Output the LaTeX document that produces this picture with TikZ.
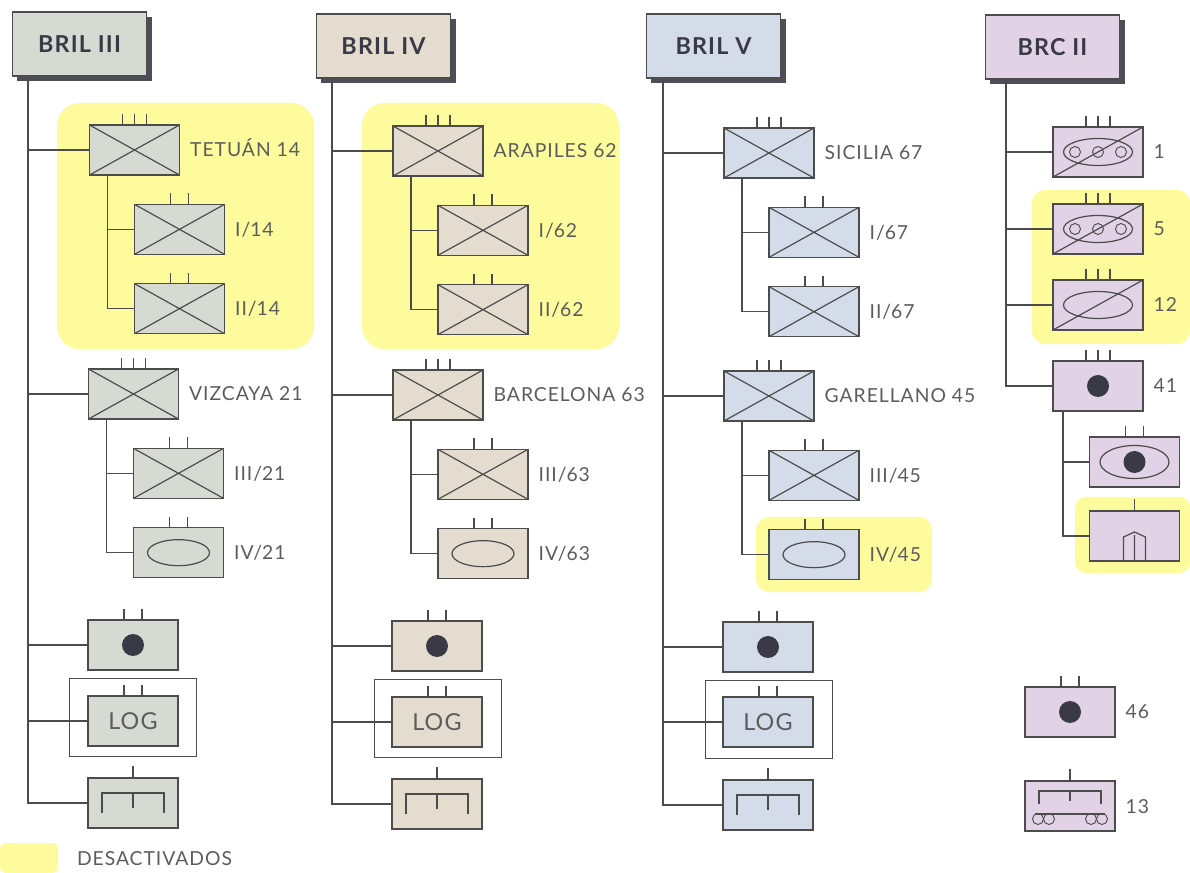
\documentclass[tikz,border=0pt]{standalone}
\usepackage{fontspec}
\setmainfont{Lato}[LetterSpace=5]
\usetikzlibrary{positioning,shadows}
\definecolor{gris}{HTML}{D6DAD2}
\definecolor{arena}{HTML}{E4DDCF}
\definecolor{azul}{HTML}{D4DCEA}
\definecolor{malva}{HTML}{E1D2E6}
\definecolor{amarillo}{HTML}{FDFB9C}
\definecolor{linea}{HTML}{4C4C4C}
\definecolor{texto}{HTML}{5C5C5C}
\definecolor{oscuro}{HTML}{3A3A46}
\tikzset{
  unitbox/.style={rectangle,draw=linea,line width=.9pt,colfill,minimum width=67.5pt,minimum height=37.5pt,inner sep=0pt,outer sep=0pt},
  inf/.style={unitbox,path picture={\draw[linea,line width=.9pt] (path picture bounding box.north west) -- (path picture bounding box.south east) (path picture bounding box.south west) -- (path picture bounding box.north east);}},
  cab/.style={unitbox,path picture={\draw[linea,line width=.9pt,shift={(path picture bounding box.center)}] (0,0) ellipse (31 and 13);}},
  art/.style={unitbox,path picture={\fill[oscuro] (path picture bounding box.center) circle (8.25pt);}},
  zap/.style={unitbox,path picture={\draw[linea,line width=.9pt,shift={(path picture bounding box.center)}] (-31,10) -- (-31,-10) -- (31,-10) -- (31,10) (0,-10) -- (0,5);}},
  logbox/.style={unitbox,font=\fontsize{17.5}{20}\selectfont,text=texto},
  tanks/.style={unitbox,path picture={\draw[linea,line width=.9pt,shift={(path picture bounding box.center)}] (0,0) ellipse (34.5 and 13.5) (-45,25) -- (45,-25);
    \foreach \d in {-23,0,23} \draw[linea,line width=.7pt,shift={(path picture bounding box.center)}] (\d,0) circle (5.5);}},
  mec/.style={unitbox,path picture={\draw[linea,line width=.9pt,shift={(path picture bounding box.center)}] (0,0) ellipse (34.5 and 13.5) (-45,25) -- (45,-25);}},
  arcab/.style={unitbox,path picture={\draw[linea,line width=.9pt,shift={(path picture bounding box.center)}] (0,0) ellipse (34.5 and 16.5); \fill[oscuro] (path picture bounding box.center) circle (8.25pt);}},
  ing/.style={unitbox,path picture={\draw[linea,line width=.9pt,shift={(path picture bounding box.center)}] (-11,25) -- (-11,1) -- (0,-4) -- (11,1) -- (11,25) (0,-1) -- (0,25);}},
  zaparc/.style={unitbox,path picture={\draw[linea,line width=.9pt,shift={(path picture bounding box.center)}] (-31,-2) -- (-31,-15) -- (31,-15) -- (31,-2) (0,-15) -- (0,-5) (-35,8) -- (35,8);
    \foreach \d in {-32,-21,21,32} \draw[linea,line width=.7pt,shift={(path picture bounding box.center)}] (\d,13) circle (5.5);}},
  brigada/.style={unitbox,drop shadow={shadow xshift=3.75pt,shadow yshift=-3.75pt,fill=oscuro!90,opacity=1},minimum width=101pt,minimum height=48pt,font=\fontsize{17.5}{20}\selectfont\bfseries,text=oscuro},
  lab/.style={font=\fontsize{14.5}{17}\selectfont,text=texto,inner sep=0pt,outer sep=0pt,text height=10.5pt,text depth=0pt},
  zona/.style={fill=amarillo,rounded corners=17pt,inner sep=0pt,outer sep=0pt},
  marco/.style={draw=linea,line width=.7pt,inner sep=0pt,outer sep=0pt},
  rama/.style={draw=linea,line width=.9pt},
  tick/.style={draw=linea,line width=.8pt},
  sub/.style={xshift=33.75pt},
  node distance=59.5pt
}
\begin{document}
\begin{tikzpicture}[x=.75pt,y=-.75pt]
\useasboundingbox (0,0) rectangle (1190,873);

% zonas desactivadas
\node[zona,minimum width=192.75pt,minimum height=184.5pt] (z3) at (185.5,226) {};
\node[zona,minimum width=192.75pt,minimum height=184.5pt] (z4) at (490.5,226) {};
\node[zona,rounded corners=10pt,minimum width=132pt,minimum height=56.25pt] (z5) at (844,554.5) {};
\node[zona,rounded corners=10pt,minimum width=118.5pt,minimum height=115.5pt] (zb1) at (1111,267) {};
\node[zona,rounded corners=8pt,minimum width=86.25pt,minimum height=57pt] (zb2) at (1132.5,535) {};
\node[zona,rounded corners=4pt,minimum width=43.5pt,minimum height=22.5pt] (zl) at (29,858) {};

% BRIL III
\begin{scope}[colfill/.style={fill=gris}]
\node[brigada] (h3) at (79.5,44) {BRIL III};
\node[inf] (t14) at (134.5,150) {};
\node[inf,sub,below of=t14] (i14) {};
\node[inf,below of=i14] (ii14) {};
\node[inf] (v21) at (133.5,394) {};
\node[inf,sub,below of=v21] (iii21) {};
\node[cab,below of=iii21] (iv21) {};
\node[art] (ar3) at (133,645) {};
\node[marco,minimum width=95.25pt,minimum height=58.5pt] (fr3) at (133,717) {};
\node[logbox] (lg3) at (133,721) {LOG};
\node[zap] (zp3) at (133,803) {};
\end{scope}

% BRIL IV
\begin{scope}[colfill/.style={fill=arena}]
\node[brigada] (h4) at (383.5,46) {BRIL IV};
\node[inf] (a62) at (438,151) {};
\node[inf,sub,below of=a62] (i62) {};
\node[inf,below of=i62] (ii62) {};
\node[inf] (b63) at (438,395) {};
\node[inf,sub,below of=b63] (iii63) {};
\node[cab,below of=iii63] (iv63) {};
\node[art] (ar4) at (437,646) {};
\node[marco,minimum width=95.25pt,minimum height=58.5pt] (fr4) at (437.5,718) {};
\node[logbox] (lg4) at (437,722) {LOG};
\node[zap] (zp4) at (437,804) {};
\end{scope}

% BRIL V
\begin{scope}[colfill/.style={fill=azul}]
\node[brigada] (h5) at (713.5,46) {BRIL V};
\node[inf] (s67) at (769,153) {};
\node[inf,sub,below of=s67] (i67) {};
\node[inf,below of=i67] (ii67) {};
\node[inf] (g45) at (769,396) {};
\node[inf,sub,below of=g45] (iii45) {};
\node[cab,below of=iii45] (iv45) {};
\node[art] (ar5) at (768,647) {};
\node[marco,minimum width=95.25pt,minimum height=58.5pt] (fr5) at (768.5,719) {};
\node[logbox] (lg5) at (768,722) {LOG};
\node[zap] (zp5) at (768,805) {};
\end{scope}

% BRC II
\begin{scope}[colfill/.style={fill=malva}]
\node[brigada] (hc) at (1052.5,47) {BRC II};
\node[tanks] (c1) at (1098,152) {};
\node[tanks] (c5) at (1098,229) {};
\node[mec] (c12) at (1098,305) {};
\node[art] (c41) at (1098,386) {};
\node[arcab] (ca) at (1134.5,462) {};
\node[ing] (ci) at (1134.5,536) {};
\node[art] (c46) at (1070,712) {};
\node[zaparc] (c13) at (1070,806) {};
\end{scope}

% textos
\foreach \n/\t in {t14/TETUÁN 14,i14/I\slash 14,ii14/II\slash 14,v21/VIZCAYA 21,iii21/III\slash 21,iv21/IV\slash 21,
    a62/ARAPILES 62,i62/I\slash 62,ii62/II\slash 62,b63/BARCELONA 63,iii63/III\slash 63,iv63/IV\slash 63,
    s67/SICILIA 67,i67/I\slash 67,ii67/II\slash 67,g45/GARELLANO 45,iii45/III\slash 45,iv45/IV\slash 45,
    c1/1,c5/5,c12/12,c41/41,c46/46,c13/13}
  \node[lab,right=8pt of \n] (l\n) {\t};
\node[lab,anchor=west] (ldes) at (77,858) {DESACTIVADOS};

% troncos
\foreach \h/\o/\l/\a/\b/\c/\d in {h3/-38.6pt/zp3/t14/v21/ar3/lg3,h4/-38.6pt/zp4/a62/b63/ar4/lg4,h5/-37.9pt/zp5/s67/g45/ar5/lg5}{
  \coordinate (tr) at ([xshift=\o]\h.south);
  \draw[rama] (tr) |- (\l.west);
  \foreach \n in {\a,\b,\c,\d} \draw[rama] (tr |- \n.west) -- (\n.west);
}
\coordinate (trc) at ([xshift=-34.9pt]hc.south);
\draw[rama] (trc) |- (c41.west);
\foreach \n in {c1,c5,c12} \draw[rama] (trc |- \n.west) -- (\n.west);

% ramas
\foreach \p/\a/\b in {t14/i14/ii14,v21/iii21/iv21,a62/i62/ii62,b63/iii63/iv63,s67/i67/ii67,g45/iii45/iv45}{
  \draw[rama] ([xshift=-20.25pt]\p.south) |- (\a.west);
  \draw[rama] ([xshift=-20.25pt]\p.south) |- (\b.west);
}
\draw[rama] ([xshift=-26.25pt]c41.south) |- (ca.west);
\draw[rama] ([xshift=-26.25pt]c41.south) |- (ci.west);

% marcas
\foreach \n in {t14,v21,a62,b63,s67,g45,c1,c5,c12,c41}
  \foreach \d in {-12,0,12} \draw[tick] ([xshift=\d*.75pt]\n.north) -- ++(0,-11);
\foreach \n in {i14,ii14,iii21,iv21,i62,ii62,iii63,iv63,i67,ii67,iii45,iv45,ar3,lg3,ar4,lg4,ar5,lg5,ca,c46}
  \foreach \d in {-9,9} \draw[tick] ([xshift=\d*.75pt]\n.north) -- ++(0,-11);
\foreach \n in {zp3,zp4,zp5,ci,c13}
  \draw[tick] (\n.north) -- ++(0,-12);
\end{tikzpicture}
\end{document}
